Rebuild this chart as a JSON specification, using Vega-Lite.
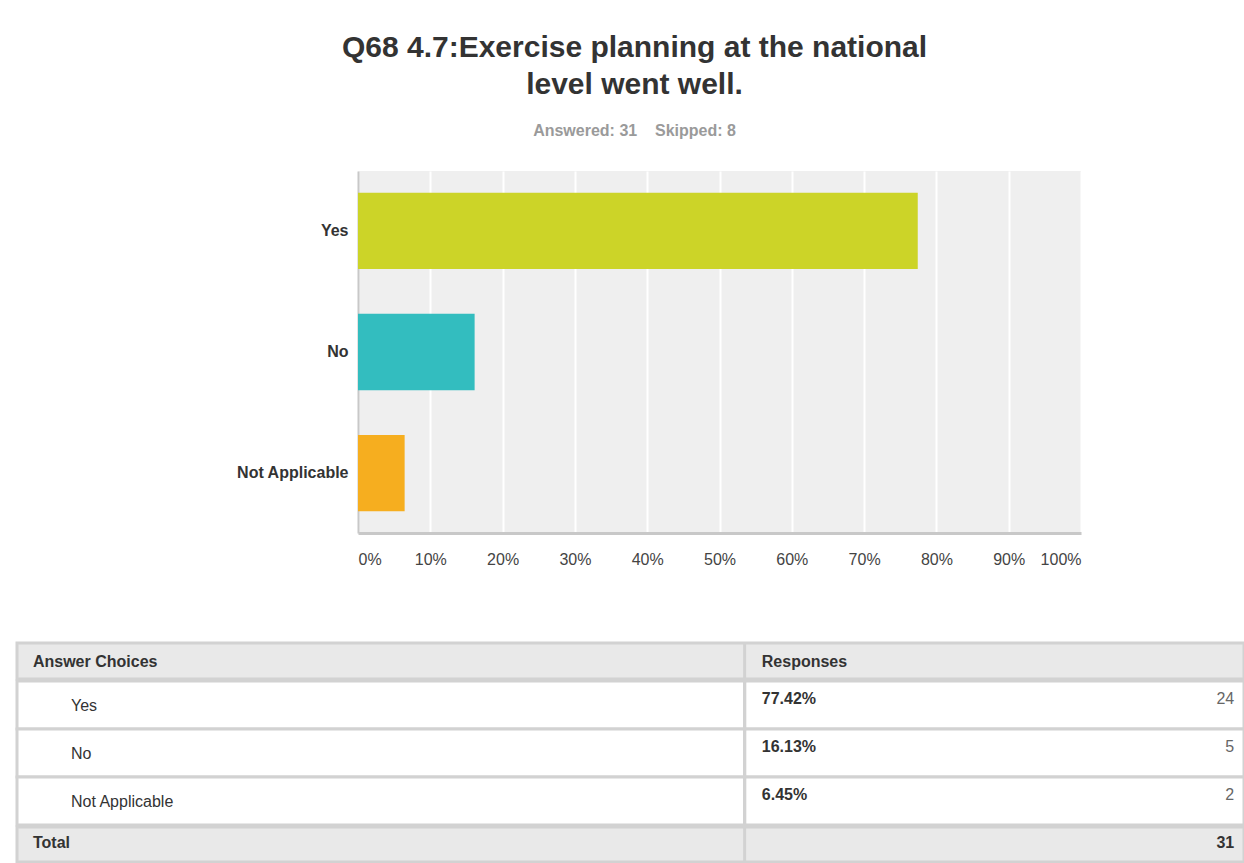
{
  "$schema": "https://vega.github.io/schema/vega-lite/v6.json",
  "background": "white",
  "padding": {"left": 15, "top": 33, "right": 0, "bottom": 0},
  "datasets": {
    "answers": [
      {"choice": "Yes", "share": 0.7742, "count": 24},
      {"choice": "No", "share": 0.1613, "count": 5},
      {"choice": "Not Applicable", "share": 0.0645, "count": 2}
    ]
  },
  "config": {
    "font": "Liberation Sans",
    "view": {"stroke": null}
  },
  "title": {
    "text": ["Q68 4.7:Exercise planning at the national", "level went well."],
    "subtitle": "Answered: 31\u00a0\u00a0\u00a0\u00a0Skipped: 8",
    "anchor": "middle",
    "frame": "bounds",
    "dx": 4,
    "fontSize": 30,
    "fontWeight": "bold",
    "color": "#333333",
    "lineHeight": 37,
    "subtitleFontSize": 16,
    "subtitleFontWeight": "bold",
    "subtitleColor": "#9a9a9a",
    "subtitlePadding": 23,
    "offset": 32
  },
  "spacing": 74,
  "vconcat": [
    {
      "width": 723,
      "height": 362,
      "data": {"name": "answers"},
      "view": {"fill": "#efefef", "stroke": null},
      "mark": {"type": "bar"},
      "encoding": {
        "y": {
          "field": "choice",
          "type": "nominal",
          "sort": null,
          "scale": {"paddingInner": 0.37, "paddingOuter": 0.18},
          "axis": {
            "title": null,
            "ticks": false,
            "tickSize": 0,
            "labelPadding": 10,
            "labelFontSize": 16,
            "labelFontWeight": "bold",
            "labelColor": "#333333",
            "domainColor": "#c8c8c8",
            "domainWidth": 2
          }
        },
        "x": {
          "field": "share",
          "type": "quantitative",
          "scale": {"domain": [0, 1], "nice": false},
          "axis": {
            "title": null,
            "format": ".0%",
            "values": [0, 0.1, 0.2, 0.3, 0.4, 0.5, 0.6, 0.7, 0.8, 0.9, 1],
            "labelOverlap": false,
            "ticks": false,
            "tickSize": 0,
            "labelPadding": 18,
            "labelFontSize": 16,
            "labelColor": "#444444",
            "labelFlush": true,
            "grid": true,
            "gridColor": "#ffffff",
            "gridWidth": 2,
            "domainColor": "#c8c8c8",
            "domainWidth": 3
          }
        },
        "color": {
          "field": "choice",
          "type": "nominal",
          "scale": {
            "domain": ["Yes", "No", "Not Applicable"],
            "range": ["#ccd428", "#33bdbf", "#f6ae1f"]
          },
          "legend": null
        }
      }
    },
    {
      "spacing": -3,
      "vconcat": [
        {
          "width": 886,
          "height": 36,
          "data": {"values": [{}]},
          "layer": [
            {
              "mark": {"type": "rect", "fill": "#e9e9e9", "stroke": "#d2d2d2", "strokeWidth": 3},
              "encoding": {
                "x": {"datum": 0, "type": "quantitative", "scale": {"domain": [0, 1], "range": [-341, 886]}, "axis": null},
                "x2": {"datum": 1}
              }
            },
            {
              "mark": {"type": "rule", "color": "#d2d2d2", "strokeWidth": 3},
              "encoding": {
                "x": {"datum": 0.593, "type": "quantitative"}
              }
            },
            {
              "mark": {"type": "text", "align": "left", "baseline": "middle", "fontSize": 16, "fontWeight": "bold", "color": "#333333", "dy": 1},
              "encoding": {
                "x": {"datum": 0.013, "type": "quantitative"},
                "text": {"value": "Answer Choices"}
              }
            },
            {
              "mark": {"type": "text", "align": "left", "baseline": "middle", "fontSize": 16, "fontWeight": "bold", "color": "#333333", "dy": 1},
              "encoding": {
                "x": {"datum": 0.607, "type": "quantitative"},
                "text": {"value": "Responses"}
              }
            }
          ]
        },
        {
          "width": 886,
          "height": 144,
          "data": {"name": "answers"},
          "layer": [
            {
              "mark": {"type": "rect", "fill": "#ffffff", "stroke": "#d2d2d2", "strokeWidth": 3},
              "encoding": {
                "y": {"field": "choice", "type": "nominal", "sort": null, "scale": {"paddingInner": 0, "paddingOuter": 0}, "axis": null},
                "x": {"datum": 0, "type": "quantitative", "scale": {"domain": [0, 1], "range": [-341, 886]}, "axis": null},
                "x2": {"datum": 1}
              }
            },
            {
              "mark": {"type": "rule", "color": "#d2d2d2", "strokeWidth": 3},
              "encoding": {
                "x": {"datum": 0.593, "type": "quantitative"}
              }
            },
            {
              "mark": {"type": "text", "align": "left", "baseline": "middle", "fontSize": 16, "color": "#333333", "dy": 1},
              "encoding": {
                "y": {"field": "choice", "type": "nominal", "sort": null},
                "x": {"datum": 0.044, "type": "quantitative"},
                "text": {"field": "choice"}
              }
            },
            {
              "mark": {"type": "text", "align": "left", "baseline": "middle", "fontSize": 16, "fontWeight": "bold", "color": "#333333", "dy": -6},
              "encoding": {
                "y": {"field": "choice", "type": "nominal", "sort": null},
                "x": {"datum": 0.607, "type": "quantitative"},
                "text": {"field": "share", "type": "quantitative", "format": ".2%"}
              }
            },
            {
              "mark": {"type": "text", "align": "right", "baseline": "middle", "fontSize": 16, "color": "#666666", "dy": -6},
              "encoding": {
                "y": {"field": "choice", "type": "nominal", "sort": null},
                "x": {"datum": 0.992, "type": "quantitative"},
                "text": {"field": "count", "type": "quantitative"}
              }
            }
          ]
        },
        {
          "width": 886,
          "height": 35,
          "data": {"name": "answers"},
          "transform": [{"aggregate": [{"op": "sum", "field": "count", "as": "total"}]}],
          "layer": [
            {
              "mark": {"type": "rect", "fill": "#e9e9e9", "stroke": "#d2d2d2", "strokeWidth": 3},
              "encoding": {
                "x": {"datum": 0, "type": "quantitative", "scale": {"domain": [0, 1], "range": [-341, 886]}, "axis": null},
                "x2": {"datum": 1}
              }
            },
            {
              "mark": {"type": "rule", "color": "#d2d2d2", "strokeWidth": 3},
              "encoding": {
                "x": {"datum": 0.593, "type": "quantitative"}
              }
            },
            {
              "mark": {"type": "text", "align": "left", "baseline": "middle", "fontSize": 16, "fontWeight": "bold", "color": "#333333", "dy": -2},
              "encoding": {
                "x": {"datum": 0.013, "type": "quantitative"},
                "text": {"value": "Total"}
              }
            },
            {
              "mark": {"type": "text", "align": "right", "baseline": "middle", "fontSize": 16, "fontWeight": "bold", "color": "#333333", "dy": -2},
              "encoding": {
                "x": {"datum": 0.992, "type": "quantitative"},
                "text": {"field": "total", "type": "quantitative"}
              }
            }
          ]
        }
      ]
    }
  ]
}
